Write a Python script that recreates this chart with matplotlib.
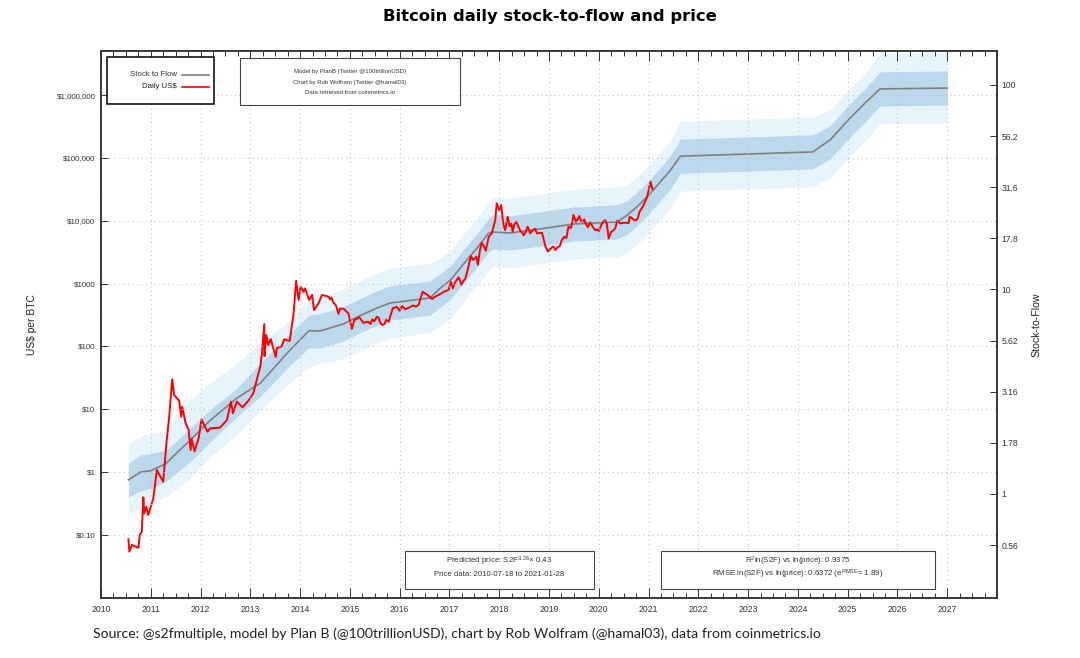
import matplotlib
matplotlib.use("Agg")
import matplotlib.pyplot as plt
from matplotlib.patches import Rectangle
from matplotlib.ticker import NullLocator

plt.rcParams['font.family'] = ['Liberation Sans', 'DejaVu Sans']
plt.rcParams['mathtext.default'] = 'regular'

# Model line and its bands (decimal year, US$)
model_years = [2010.55, 2010.8, 2011.0, 2011.3, 2011.5, 2011.79, 2012.19, 2012.73, 2013.2, 2013.8,
               2014.18, 2014.4, 2014.86, 2015.15, 2015.55, 2015.8, 2016.61, 2016.81, 2017.02, 2017.35,
               2017.55, 2017.78, 2017.86, 2018.22, 2018.96, 2019.49, 2020.37, 2020.57, 2020.77, 2020.97,
               2021.24, 2021.44, 2021.64, 2024.3, 2024.65, 2025.05, 2025.35, 2025.65, 2027.0]
model_price = [0.75, 1.0, 1.05, 1.35, 1.94, 3.2, 6.6, 15, 26, 88,
               178, 176, 227, 295, 410, 490, 590, 840, 1140, 2380,
               3640, 6300, 6630, 6400, 7700, 8900, 9600, 12300, 16800, 24000,
               41900, 64000, 107000, 125000, 195000, 433000, 750000, 1260000, 1300000]
dark_hi = [1.37, 1.87, 1.98, 2.24, 3.0, 5, 9.7, 21.5, 54, 162,
           316, 330, 425, 550, 770, 920, 1100, 1430, 1940, 4050,
           6200, 10700, 12400, 12000, 14400, 16600, 18000, 21000, 28600, 40800,
           71000, 109000, 200000, 234000, 330000, 736000, 1275000, 2360000, 2430000]
dark_lo = [0.40, 0.50, 0.55, 0.70, 0.95, 1.46, 3, 7.6, 16, 50,
           95, 94, 121, 158, 219, 262, 316, 420, 570, 1190,
           1820, 3150, 3550, 3420, 4100, 4760, 5130, 6150, 8400, 12000,
           21000, 32000, 57000, 67000, 97500, 216000, 375000, 674000, 695000]
light_hi = [2.86, 3.7, 4.1, 4.5, 8, 14, 26, 54, 113, 263,
            560, 620, 817, 1060, 1480, 1760, 2120, 2520, 3420, 7140,
            10900, 18900, 23900, 23000, 27700, 32000, 34600, 36900, 50400, 72000,
            126000, 192000, 385000, 450000, 585000, 1300000, 2250000, 4540000, 4680000]
light_lo = [0.22, 0.27, 0.32, 0.40, 0.52, 0.8, 1.75, 3.9, 9.7, 27,
            47, 54, 63, 82, 114, 136, 164, 210, 285, 595,
            910, 1575, 1840, 1780, 2140, 2470, 2670, 3075, 4200, 6000,
            10500, 16000, 29700, 34700, 48800, 108000, 188000, 350000, 361000]

# Daily price
price_years = [2010.55, 2010.57, 2010.62, 2010.75, 2010.78, 2010.82, 2010.85, 2010.87, 2010.91, 2010.95,
               2011.05, 2011.09, 2011.12, 2011.25, 2011.32, 2011.37, 2011.43, 2011.47, 2011.57, 2011.61,
               2011.63, 2011.70, 2011.76, 2011.80, 2011.82, 2011.88, 2011.96, 2012.02, 2012.14, 2012.19,
               2012.39, 2012.53, 2012.61, 2012.65, 2012.73, 2012.84, 2012.96, 2013.06, 2013.2, 2013.23,
               2013.28, 2013.285, 2013.32, 2013.36, 2013.41, 2013.51, 2013.53, 2013.63, 2013.68, 2013.79,
               2013.83, 2013.87, 2013.92, 2013.97, 2014.01, 2014.07, 2014.10, 2014.18, 2014.24, 2014.28,
               2014.37, 2014.44, 2014.57, 2014.60, 2014.63, 2014.66, 2014.72, 2014.77, 2014.80, 2014.87,
               2014.97, 2015.04, 2015.09, 2015.19, 2015.27, 2015.37, 2015.41, 2015.45, 2015.49, 2015.54,
               2015.58, 2015.61, 2015.65, 2015.70, 2015.73, 2015.78, 2015.86, 2015.94, 2016.0, 2016.05,
               2016.11, 2016.2, 2016.27, 2016.33, 2016.38, 2016.42, 2016.46, 2016.56, 2016.65, 2016.7,
               2016.75, 2016.81, 2016.9, 2016.98, 2017.03, 2017.07, 2017.1, 2017.18, 2017.21, 2017.24,
               2017.28, 2017.32, 2017.37, 2017.43, 2017.48, 2017.54, 2017.57, 2017.61, 2017.65, 2017.69,
               2017.73, 2017.79, 2017.85, 2017.92, 2017.95, 2018.0, 2018.04, 2018.07, 2018.09, 2018.12,
               2018.17, 2018.21, 2018.24, 2018.27, 2018.3, 2018.34, 2018.38, 2018.42, 2018.46, 2018.49,
               2018.53, 2018.57, 2018.6, 2018.62, 2018.68, 2018.72, 2018.76, 2018.86, 2018.93, 2018.98,
               2019.02, 2019.06, 2019.09, 2019.13, 2019.17, 2019.22, 2019.25, 2019.28, 2019.31, 2019.35,
               2019.39, 2019.44, 2019.47, 2019.49, 2019.52, 2019.54, 2019.57, 2019.61, 2019.64, 2019.66,
               2019.69, 2019.71, 2019.73, 2019.78, 2019.8, 2019.83, 2019.88, 2019.93, 2019.96, 2020.0,
               2020.05, 2020.09, 2020.13, 2020.16, 2020.2, 2020.25, 2020.29, 2020.33, 2020.37, 2020.4,
               2020.43, 2020.5, 2020.57, 2020.6, 2020.62, 2020.67, 2020.73, 2020.78, 2020.82, 2020.86,
               2020.90, 2020.97, 2021.04, 2021.08]
price_usd = [0.085, 0.054, 0.069, 0.062, 0.10, 0.112, 0.395, 0.22, 0.28, 0.207,
             0.38, 0.66, 1.08, 0.70, 3.2, 7.6, 30, 16.8, 13.6, 7.6,
             11, 6, 4.7, 2.24, 3.4, 2.14, 3.4, 6.9, 4.4, 4.95,
             5.1, 6.7, 13.2, 8.6, 13.2, 10.7, 13.6, 18, 48, 73,
             227, 70, 152, 105, 131, 68, 94, 100, 130, 122,
             200, 336, 1110, 550, 890, 740, 840, 550, 660, 380,
             485, 660, 620, 560, 600, 515, 450, 330, 400, 400,
             336, 190, 263, 290, 238, 247, 227, 270, 250, 297,
             285, 240, 219, 230, 265, 247, 404, 428, 370, 440,
             390, 420, 450, 430, 457, 580, 740, 660, 570, 610,
             640, 680, 750, 790, 1070, 840, 1000, 1260, 1150, 950,
             1100, 1200, 1700, 2750, 2380, 2690, 2000, 3300, 4470, 4000,
             3340, 5600, 6300, 10200, 19000, 14800, 17800, 10500, 8500, 7100,
             11600, 8200, 9000, 6700, 8700, 9680, 8300, 7000, 6500, 5900,
             6600, 8050, 7200, 6300, 7100, 7500, 6300, 6450, 3880, 3230,
             3500, 3780, 3900, 3430, 3800, 3980, 4800, 5250, 5600, 5320,
             8050, 7680, 9500, 12400, 10800, 9680, 10300, 11900, 10200, 9680,
             10000, 10500, 9300, 7900, 8500, 9460, 8000, 7100, 7300, 6900,
             8600, 9800, 10200, 9000, 5250, 6700, 7000, 7590, 10000, 9700,
             9120, 9300, 9330, 9200, 11600, 11000, 10000, 10800, 14000, 15700,
             17800, 24000, 41700, 32000]

year_ticks = list(range(2010, 2028))
quarter_ticks = [2010 + i * 0.25 for i in range(73)]
price_ticks = [0.1, 1, 10, 100, 1000, 10000, 100000, 1000000]
price_labels = ['$0.10', '$1', '$10', '$100', '$1000', '$10,000', '$100,000', '$1,000,000']
s2f_ticks = [0.56, 1, 1.78, 3.16, 5.62, 10, 17.8, 31.6, 56.2, 100]
s2f_labels = ['0.56', '1', '1.78', '3.16', '5.62', '10', '17.8', '31.6', '56.2', '100']

W, H = 1080, 658
fig = plt.figure(figsize=(W / 100, H / 100), dpi=100)
ax = fig.add_axes([101 / W, 1 - 598 / H, 896 / W, 547 / H])

ax.fill_between(model_years, light_lo, light_hi, color='#e8f4fc', lw=0)
ax.fill_between(model_years, dark_lo, dark_hi, color='#bcd8ec', lw=0)
ax.plot(model_years, model_price, color='#808080', lw=1.2, label='Stock to Flow')
ax.plot(price_years, price_usd, color='#ff0000', lw=1.4, label='Daily US$')

ax.set_yscale('log')
ax.set_xlim(2010, 2028)
ax.set_ylim(0.00986, 5.06e6)
ax.set_xticks(year_ticks)
ax.set_xticklabels([str(y) for y in year_ticks])
ax.set_xticks(quarter_ticks, minor=True)
ax.set_yticks(price_ticks)
ax.set_yticklabels(price_labels)
ax.yaxis.set_minor_locator(NullLocator())
ax.tick_params(axis='x', which='major', direction='in', top=True, length=7, width=0.7, labelsize=6.2, colors='#333333', pad=5)
ax.tick_params(axis='x', which='minor', direction='in', top=True, length=3.5, width=0.7, colors='#333333')
ax.tick_params(axis='y', direction='in', length=5, width=0.7, labelsize=5.7, colors='#333333', pad=4)
ax.grid(True, which='major', color='#c4c4c4', lw=0.8, ls=(0, (1, 3)))
ax.set_axisbelow(False)
for s in ax.spines.values():
    s.set_linewidth(1.1)
    s.set_color('#333333')
ax.set_ylabel('US$ per BTC', fontsize=7.4, color='#222222')
ax.yaxis.set_label_coords((37 - 101) / 896, 0.5, transform=ax.transAxes)

ax2 = ax.twinx()
ax2.set_yscale('log')
ax2.set_ylim(0.31, 146.6)
ax2.set_yticks(s2f_ticks)
ax2.set_yticklabels(s2f_labels)
ax2.yaxis.set_minor_locator(NullLocator())
ax2.tick_params(axis='y', direction='in', length=5, width=0.7, labelsize=6.2, colors='#333333', pad=3.5)
ax2.set_ylabel('Stock-to-Flow', fontsize=7.6, color='#222222')
ax2.yaxis.set_label_coords((1031 - 101) / 896, 0.5, transform=ax2.transAxes)
for s in ax2.spines.values():
    s.set_linewidth(1.1)
    s.set_color('#333333')


def px_box(x0, y0, x1, y1, ec='#444444', lw=0.8):
    # box given in image pixels
    fig.add_artist(Rectangle((x0 / W, 1 - y1 / H), (x1 - x0) / W, (y1 - y0) / H, transform=fig.transFigure,
                             fc='white', ec=ec, lw=lw, zorder=5))


def px_text(x, y, s, **kw):
    fig.text(x / W, 1 - y / H, s, ha=kw.pop('ha', 'center'), va='center', zorder=6, **kw)


# Legend
px_box(107, 57, 214, 104, ec='black', lw=1.1)
px_text(177, 75, 'Stock to Flow', ha='right', fontsize=5.6, color='#333333')
px_text(177, 86.5, 'Daily US$', ha='right', fontsize=5.6, color='#222222')
fig.add_artist(plt.Line2D([182 / W, 209 / W], [1 - 75 / H] * 2, color='#808080', lw=1.2, zorder=6))
fig.add_artist(plt.Line2D([182 / W, 209 / W], [1 - 86.5 / H] * 2, color='#ff0000', lw=1.2, zorder=6))

# Credits box
px_box(240, 58, 460, 105)
px_text(350, 72, 'Model by PlanB (Twitter @100trillionUSD)', fontsize=4.3, color='#333333')
px_text(350, 82.5, 'Chart by Rob Wolfram (Twitter @hamal03)', fontsize=4.3, color='#333333')
px_text(350, 93, 'Data retrieved from coinmetrics.io', fontsize=4.3, color='#333333')

# Fit boxes
px_box(405, 551, 594, 589)
px_text(499.5, 561.5, 'Predicted price: S2F$^{3.26}$× 0.43', fontsize=5.7, color='#333333')
px_text(499.5, 574, 'Price data: 2010-07-18 to 2021-01-28', fontsize=5.6, color='#333333')
px_box(661, 551, 935, 589)
px_text(798, 561.5, 'R$^{2}$ln(S2F) vs ln(price): 0.9375', fontsize=5.7, color='#333333')
px_text(798, 574, 'RMSE ln(S2F) vs ln(price): 0.6372 (e$^{RMSE}$= 1.89)', fontsize=5.7, color='#333333')

px_text(549.5, 17, 'Bitcoin daily stock-to-flow and price', fontsize=11.8, fontweight='bold',
        family=['DejaVu Sans'], color='black')
px_text(93, 634, 'Source: @s2fmultiple, model by Plan B (@100trillionUSD), chart by Rob Wolfram (@hamal03), data from coinmetrics.io',
        ha='left', fontsize=10.1, family=['Lato', 'DejaVu Sans'], color='#222222')

fig.savefig('out.png', dpi=100)
